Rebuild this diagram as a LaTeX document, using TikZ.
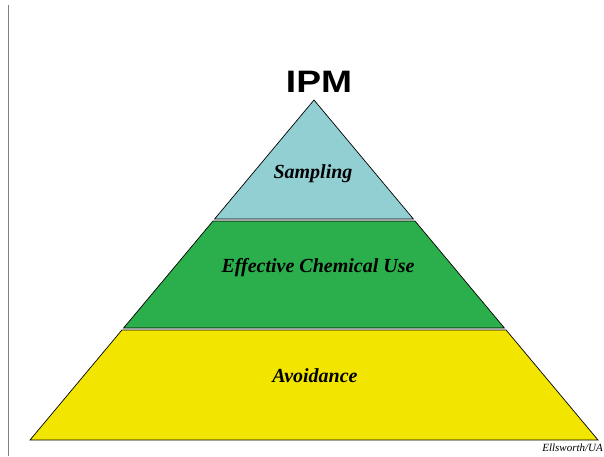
\documentclass[tikz,border=0pt]{standalone}
\usepackage{fontspec}
\setmainfont{Liberation Serif}
\newfontfamily\ipmfont{Liberation Sans}
\usetikzlibrary{positioning}

\definecolor{samplingblue}{RGB}{146,207,211}
\definecolor{chemgreen}{RGB}{43,174,76}
\definecolor{avoidyellow}{RGB}{242,230,0}

\tikzstyle{tier}=[draw=black, line width=0.7pt, line join=miter]
\tikzstyle{tierlabel}=[font=\fontsize{20}{22}\selectfont\bfseries\itshape, anchor=base]

\begin{document}
\begin{tikzpicture}[x=1pt,y=-1pt]
\useasboundingbox (0,0) rectangle (604,456);

\draw [gray, line width=1pt] (8,5) -- (8,456);

\coordinate (apex) at (314,100);
\coordinate (L1) at (214.6,219);
\coordinate (R1) at (413.4,219);
\coordinate (L2) at (213.0,221);
\coordinate (R2) at (415.0,221);
\coordinate (L3) at (123.6,328);
\coordinate (R3) at (504.4,328);
\coordinate (L4) at (121.9,330);
\coordinate (R4) at (506.1,330);
\coordinate (L5) at (30,440);
\coordinate (R5) at (598,440);

\filldraw [tier, fill=samplingblue] (apex) -- (R1) -- (L1) -- cycle;
\filldraw [tier, fill=chemgreen] (L2) -- (R2) -- (R3) -- (L3) -- cycle;
\filldraw [tier, fill=avoidyellow] (L4) -- (R4) -- (R5) -- (L5) -- cycle;

\node [font=\ipmfont\fontsize{31}{34}\selectfont\bfseries, anchor=base, xscale=1.2] (ipm) at (319,92) {IPM};
\node [tierlabel] (sampling) at (313,178) {Sampling};
\node [tierlabel] (chemuse) at (318,272) {Effective Chemical Use};
\node [tierlabel] (avoid) at (315,382) {Avoidance};
\node [font=\fontsize{11}{12}\selectfont\itshape, anchor=base east, inner sep=0pt] (credit) at (603,451) {Ellsworth/UA};
\end{tikzpicture}
\end{document}
